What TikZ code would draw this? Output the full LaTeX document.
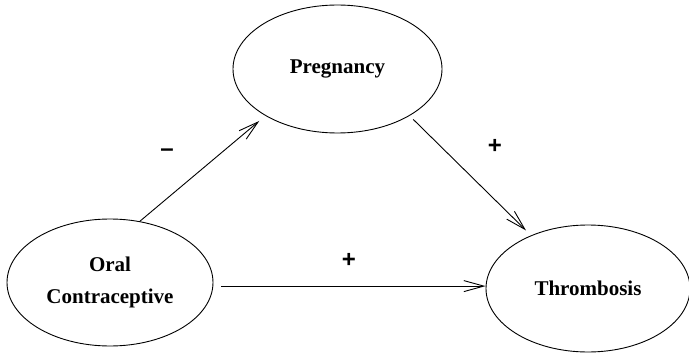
\documentclass[tikz,border=0pt]{standalone}
\usepackage{fontspec}
\setmainfont{Liberation Serif}
\newfontfamily\signfont{Liberation Sans}
\usetikzlibrary{shapes.geometric,arrows.meta}
\begin{document}
\begin{tikzpicture}[x=1pt,y=-1pt,
  ell/.style={draw,ellipse,line width=0.9pt,inner sep=0pt,align=center,
    font=\fontsize{21}{32}\selectfont\bfseries},
  conn/.style={line width=0.9pt,-{Straight Barb[length=20pt,width=11pt,line width=0.9pt]}},
  sign/.style={font=\signfont\fontsize{24}{24}\selectfont\bfseries,inner sep=0pt}]
\useasboundingbox (0,0) rectangle (689,353);
\node[ell,minimum width=209pt,minimum height=128pt] (preg) at (337.5,69) {Pregnancy};
\node[ell,minimum width=206pt,minimum height=127pt] (oc) at (110,282.5) {Oral\\Contraceptive};
\node[ell,minimum width=204pt,minimum height=127pt] (thr) at (588,288.5) {Thrombosis};
\draw[conn,shorten >=8pt] (oc.64) -- (preg.213);
\draw[conn,shorten <=5pt,shorten >=7pt] (preg.-33) -- (thr.137);
\draw[conn,shorten <=8pt] (oc.-2) -- (oc.-2 -| thr.west);
\node[sign] (m1) at (167,153) {–};
\node[sign] (p1) at (495,146) {+};
\node[sign] (p2) at (349,260) {+};
\end{tikzpicture}
\end{document}
